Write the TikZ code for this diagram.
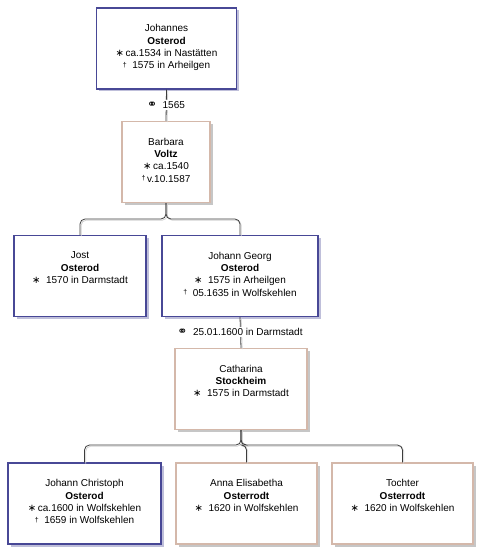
\documentclass[tikz,border=0pt]{standalone}
\usepackage{fontspec}
\setmainfont{Liberation Sans}
\newfontfamily\symfont{DejaVu Sans}
\usetikzlibrary{positioning, shadows}
\usepackage{xcolor}
\definecolor{malecolor}{RGB}{72,72,150}
\definecolor{femalecolor}{RGB}{212,184,170}
\definecolor{linkcolor}{RGB}{60,60,60}
\newcommand{\born}{{\symfont ∗}}
\newcommand{\died}{{\fontsize{7}{7}\selectfont\smash{\raisebox{1.5pt}{†}}}}
\newcommand{\wed}{{\symfont\fontsize{12}{12}\selectfont ⚭}}

\begin{document}
\begin{tikzpicture}[x=1pt, y=-1pt]
  \tikzset{
    male/.style={
      draw=malecolor,
      line width=1.3pt,
      fill=white,
      minimum height=81pt,
      drop shadow={shadow xshift=2.5pt, shadow yshift=-2.5pt, fill=malecolor!35, opacity=1}
    },
    female/.style={
      draw=femalecolor,
      line width=1.3pt,
      fill=white,
      minimum height=81pt,
      drop shadow={shadow xshift=2.5pt, shadow yshift=-2.5pt, fill=gray!45, opacity=1}
    },
    info/.style={
      anchor=north,
      inner sep=0pt,
      align=center,
      yshift=-17pt,
      font=\fontsize{10}{12.3}\selectfont
    },
    link/.style={
      draw=linkcolor,
      line width=0.8pt,
      preaction={draw=gray!35, line width=0.8pt, transform canvas={xshift=1.2pt, yshift=-1.2pt}}
    },
    branch/.style={
      link,
      rounded corners=5pt
    },
    marriage/.style={
      fill=white,
      inner sep=1pt,
      font=\fontsize{10}{12}\selectfont
    }
  }
  \useasboundingbox (0,0) rectangle (489,559);

  % Generation 1
  \node[male, minimum width=140pt] at (166.5, 48.5) (johannes) {};
  \node[info] at (johannes.north) {Johannes\\\textbf{Osterod}\\\born\,ca.1534 in Nastätten\\\died\ \ 1575 in Arheilgen};

  \node[female, minimum width=88pt] at (166, 162) (barbara) {};
  \node[info] at (barbara.north) {Barbara\\\textbf{Voltz}\\\born\,ca.1540\\\died\,v.10.1587};

  \draw[link] (johannes.south) -- (barbara.north);
  \node[marriage] at (166, 105) (wed1) {\wed\ \ 1565};

  % Generation 2
  \node[male, minimum width=132pt] at (80, 276) (jost) {};
  \node[info] at (jost.north) {Jost\\\textbf{Osterod}\\\born\ \ 1570 in Darmstadt};

  \node[male, minimum width=156pt] at (240, 276) (georg) {};
  \node[info] at (georg.north) {Johann Georg\\\textbf{Osterod}\\\born\ \ 1575 in Arheilgen\\\died\ \ 05.1635 in Wolfskehlen};

  \coordinate (fork1) at (166, 219);
  \draw[branch] (jost.north) |- (fork1) -- (barbara.south);
  \draw[branch] (georg.north) |- (fork1) -- (barbara.south);

  \node[female, minimum width=132pt] at (241, 389) (catharina) {};
  \node[info] at (catharina.north) {Catharina\\\textbf{Stockheim}\\\born\ \ 1575 in Darmstadt};

  \draw[link] (georg.south) -- (catharina.north);
  \node[marriage] at (240, 332) (wed2) {\wed\ \ 25.01.1600 in Darmstadt};

  % Generation 3
  \node[male, minimum width=153pt] at (84.5, 503.5) (christoph) {};
  \node[info] at (christoph.north) {Johann Christoph\\\textbf{Osterod}\\\born\,ca.1600 in Wolfskehlen\\\died\ \ 1659 in Wolfskehlen};

  \node[female, minimum width=141pt] at (246.5, 503.5) (annaelisabetha) {};
  \node[info] at (annaelisabetha.north) {Anna Elisabetha\\\textbf{Osterrodt}\\\born\ \ 1620 in Wolfskehlen};

  \node[female, minimum width=141pt] at (402.5, 503.5) (tochter) {};
  \node[info] at (tochter.north) {Tochter\\\textbf{Osterrodt}\\\born\ \ 1620 in Wolfskehlen};

  \coordinate (fork2) at (241, 445);
  \draw[branch] (christoph.north) |- (fork2) -- (catharina.south);
  \draw[branch] (annaelisabetha.north) |- (fork2) -- (catharina.south);
  \draw[branch] (tochter.north) |- (fork2) -- (catharina.south);
\end{tikzpicture}
\end{document}
